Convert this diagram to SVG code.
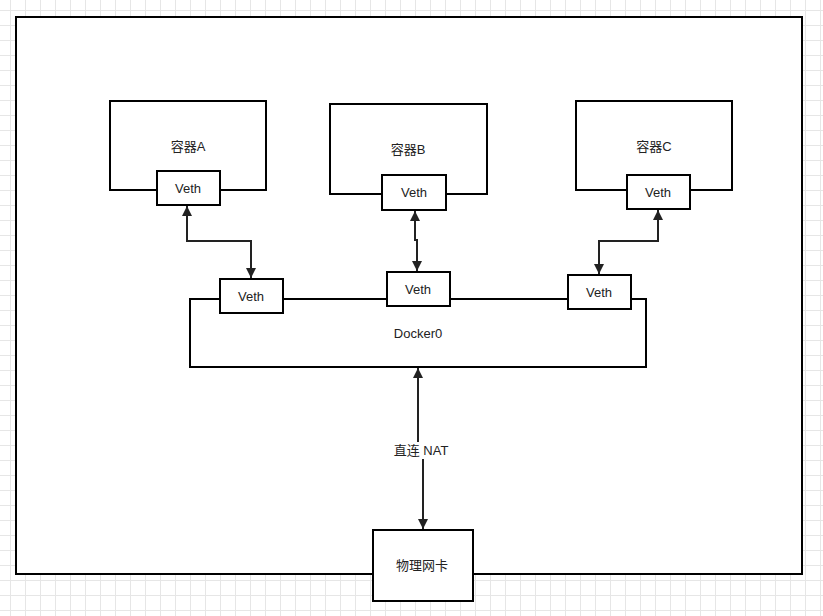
<svg xmlns="http://www.w3.org/2000/svg" width="823" height="616" viewBox="0 0 823 616">
<style>
.box{fill:#fff;stroke:#000;stroke-width:2}
.ln{fill:none;stroke:#000;stroke-width:2}
.cn{fill:none;stroke:#222;stroke-width:2}
.t{font-family:"Liberation Sans","Noto Sans CJK SC",sans-serif;font-size:13px;fill:#222;text-anchor:middle}
</style>
<defs>
<pattern id="grid" patternUnits="userSpaceOnUse" x="10" y="10" width="15" height="15">
<path d="M0.5 0V15M0 0.5H15" stroke="#e6e6e6" stroke-width="1" fill="none"/>
</pattern>
<marker id="ah" viewBox="0 0 10 10" refX="10" refY="5" markerWidth="10" markerHeight="10" markerUnits="userSpaceOnUse" orient="auto-start-reverse">
<path d="M0 0L10 5L0 10Z" fill="#222"/>
</marker>
</defs>
<rect width="823" height="616" fill="#fff"/>
<rect width="823" height="616" fill="url(#grid)"/>
<rect id="outer" x="16" y="17" width="786" height="557" class="box"/>

<g id="containerA">
<rect x="110" y="101" width="156" height="89" class="box"/>
<text x="188" y="151" class="t">容器A</text>
</g>
<g id="containerB">
<rect x="330" y="104" width="157" height="90" class="box"/>
<text x="408" y="154" class="t">容器B</text>
</g>
<g id="containerC">
<rect x="576" y="101" width="156" height="89" class="box"/>
<text x="654" y="151" class="t">容器C</text>
</g>
<g id="docker0">
<rect x="190" y="299" width="456" height="68" class="box"/>
<text x="418" y="338" class="t">Docker0</text>
</g>
<g id="vethA">
<rect x="157" y="171" width="63" height="34" class="box"/>
<text x="188" y="193" class="t">Veth</text>
</g>
<g id="vethB">
<rect x="382" y="175" width="64" height="35" class="box"/>
<text x="414" y="197" class="t">Veth</text>
</g>
<g id="vethC">
<rect x="627" y="175" width="63" height="34" class="box"/>
<text x="658" y="197" class="t">Veth</text>
</g>
<g id="vethA2">
<rect x="220" y="279" width="63" height="34" class="box"/>
<text x="251" y="301" class="t">Veth</text>
</g>
<g id="vethB2">
<rect x="387" y="272" width="63" height="34" class="box"/>
<text x="418" y="294" class="t">Veth</text>
</g>
<g id="vethC2">
<rect x="568" y="275" width="63" height="34" class="box"/>
<text x="599" y="297" class="t">Veth</text>
</g>
<g id="nic">
<rect x="373" y="530" width="100" height="71" class="box"/>
<text x="422" y="570" class="t">物理网卡</text>
</g>
<g id="connectors">
<path d="M187 206V241H251V278" class="cn" marker-start="url(#ah)" marker-end="url(#ah)"/>
<path d="M415 211V240H417V271" class="cn" marker-start="url(#ah)" marker-end="url(#ah)"/>
<path d="M658 210V241H599V274" class="cn" marker-start="url(#ah)" marker-end="url(#ah)"/>
<path d="M418 442V368" class="cn" marker-end="url(#ah)"/>
<path d="M423 459V529" class="cn" marker-end="url(#ah)"/>
<text x="421" y="455" class="t">直连 NAT</text>
</g>
</svg>
